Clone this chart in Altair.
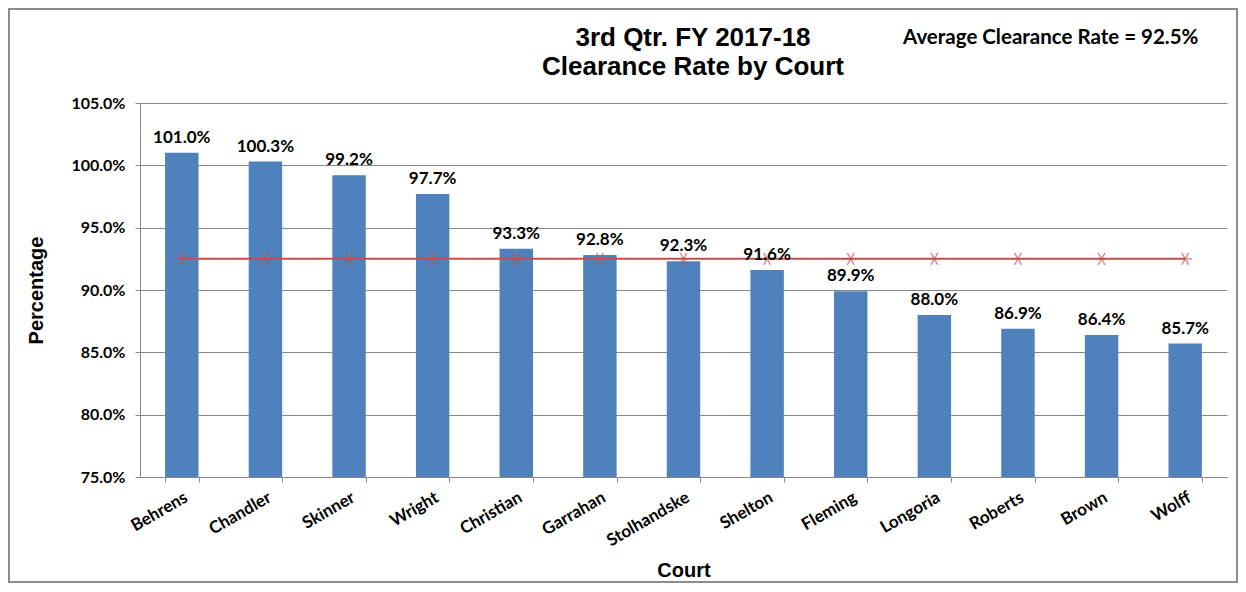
import altair as alt
import pandas as pd

courts = ["Behrens", "Chandler", "Skinner", "Wright", "Christian", "Garrahan",
          "Stolhandske", "Shelton", "Fleming", "Longoria", "Roberts", "Brown", "Wolff"]
rates = [1.010, 1.003, 0.992, 0.977, 0.933, 0.928, 0.923, 0.916, 0.899, 0.880, 0.869, 0.864, 0.857]
average = 0.925
y_ticks = [0.75, 0.80, 0.85, 0.90, 0.95, 1.00, 1.05]
title_lines = ["3rd Qtr. FY 2017-18", "Clearance Rate by Court"]
note_text = "Average Clearance Rate = 92.5%"

df = pd.DataFrame({"Court": courts, "Rate": rates, "Avg": [average] * len(courts),
                   "Base": [y_ticks[0]] * len(courts)})

W, H = 1087, 374
LABEL_FONT = "Lato"
TITLE_FONT = "Liberation Sans Narrow, Liberation Sans, Arial"
BLUE = "#4F81BD"
RED = "#C0504D"

x_enc = alt.X("Court:N", sort=courts, title="Court",
              scale=alt.Scale(paddingInner=0.6, paddingOuter=0.3),
              axis=alt.Axis(labelAngle=-30, labelFont=LABEL_FONT, labelFontSize=17,
                            labelFontWeight="bold", labelColor="black", labelPadding=7,
                            tickBand="extent", tickColor="#888888", tickSize=5,
                            domainColor="#888888", titleFont=TITLE_FONT, titleFontSize=20,
                            titleFontWeight="bold", titleColor="black", titlePadding=12))
y_scale = alt.Scale(domain=[0.75, 1.05], nice=False, zero=False)

bars = alt.Chart(df).mark_bar(color=BLUE, clip=True).encode(
    x=x_enc,
    y=alt.Y("Rate:Q", scale=y_scale, title="Percentage",
            axis=alt.Axis(values=y_ticks, format=".1%", labelFont=LABEL_FONT,
                          labelFontSize=16, labelFontWeight="bold", labelColor="black",
                          labelPadding=10, tickSize=5, tickColor="#888888",
                          domainColor="#888888", gridColor="#888888", gridWidth=1,
                          titleFont=TITLE_FONT, titleFontSize=20, titleFontWeight="bold",
                          titleColor="black", titlePadding=24)),
    y2="Base:Q",
)

labels = alt.Chart(df).mark_text(font=LABEL_FONT, fontSize=17, fontWeight="bold",
                                 color="black", baseline="bottom", dy=-6).encode(
    x=alt.X("Court:N", sort=courts),
    y=alt.Y("Rate:Q", scale=y_scale),
    text=alt.Text("Rate:Q", format=".1%"),
)

avg_line = alt.Chart(df).mark_line(color=RED, strokeWidth=2).encode(
    x=alt.X("Court:N", sort=courts),
    y=alt.Y("Avg:Q", scale=y_scale),
)

asterisk = "M-1,0L1,0M-0.5,-0.87L0.5,0.87M-0.5,0.87L0.5,-0.87"
avg_pts = alt.Chart(df).mark_point(shape=asterisk, filled=False, color=RED,
                                   size=190, strokeWidth=1.3).encode(
    x=alt.X("Court:N", sort=courts),
    y=alt.Y("Avg:Q", scale=y_scale),
)

note = alt.Chart(pd.DataFrame({"t": [note_text]})).mark_text(
    font=LABEL_FONT, fontSize=20.5, fontWeight="bold", color="black", align="left",
    baseline="middle").encode(
    text="t:N", x=alt.value(763), y=alt.value(-65))

title_df = pd.DataFrame({"t": title_lines, "row": [0, 1]})
title1 = alt.Chart(title_df.iloc[[0]]).mark_text(
    font=TITLE_FONT, fontSize=26, fontWeight="bold", color="black", align="center",
    baseline="middle").encode(text="t:N", x=alt.value(553), y=alt.value(-65))
title2 = alt.Chart(title_df.iloc[[1]]).mark_text(
    font=TITLE_FONT, fontSize=26, fontWeight="bold", color="black", align="center",
    baseline="middle").encode(text="t:N", x=alt.value(553), y=alt.value(-36))

border = alt.Chart(pd.DataFrame({"d": [0]})).mark_rect(
    fill=None, stroke="#8c8c8c", strokeWidth=2).encode(
    x=alt.value(-131), x2=alt.value(W + 10), y=alt.value(-94), y2=alt.value(H + 105))

chart = alt.layer(bars, avg_line, avg_pts, labels, note, title1, title2, border).properties(
    width=W, height=H,
    autosize=alt.AutoSizeParams(type="none"),
    padding={"left": 132, "top": 95, "right": 11, "bottom": 107},
).configure_view(stroke=None).configure_axisX(grid=False)

chart.save("out.html", embed_options={"renderer": "svg", "actions": False})
